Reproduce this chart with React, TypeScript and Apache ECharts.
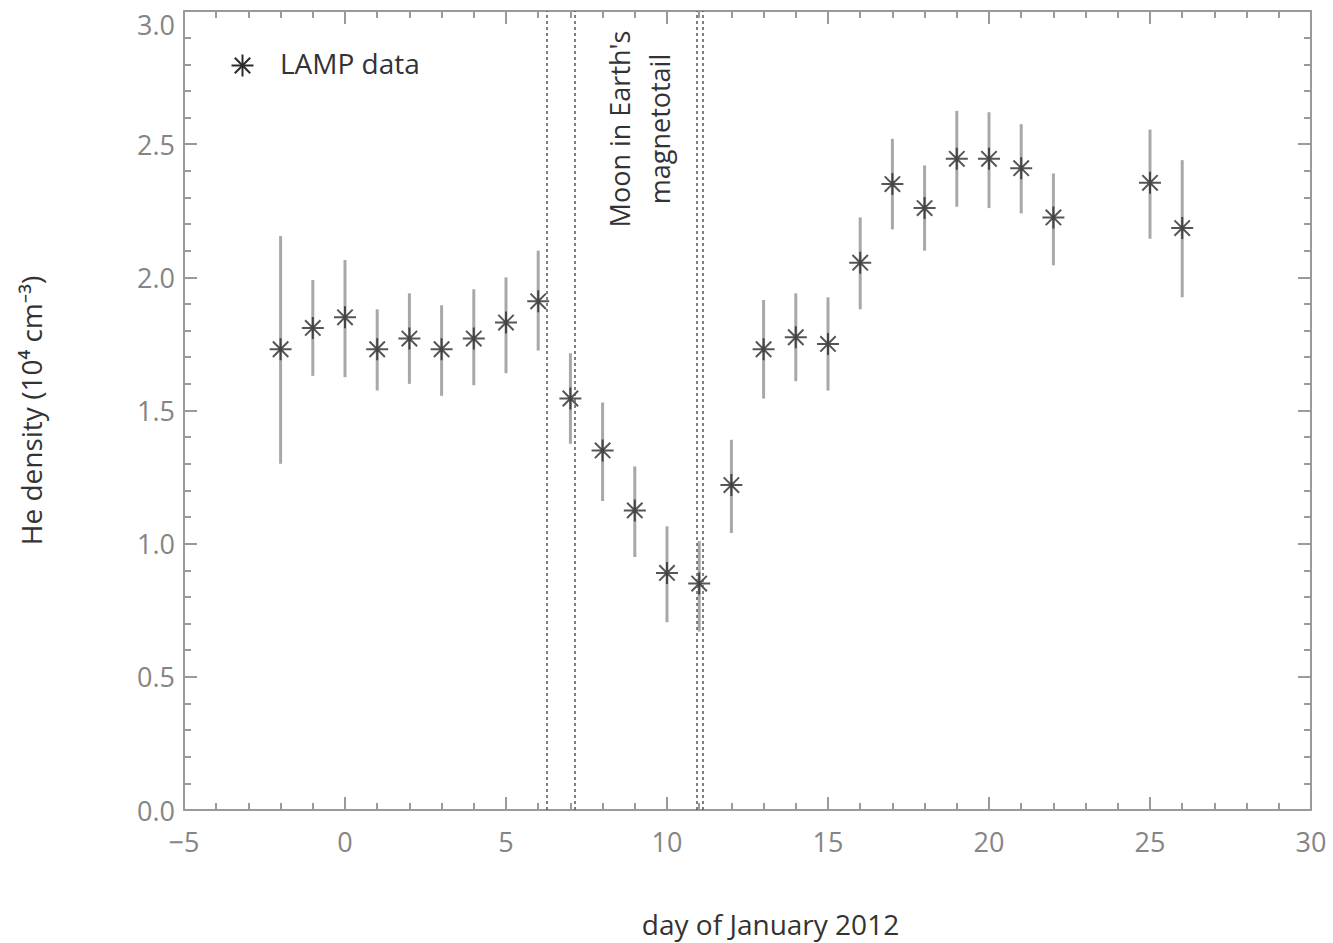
import React, { useEffect, useRef } from "react";
import * as echarts from "echarts";

// Day of January 2012
const days = [-2, -1, 0, 1, 2, 3, 4, 5, 6, 7, 8, 9, 10, 11, 12, 13, 14, 15, 16, 17, 18, 19, 20, 21, 22, 25, 26];
// He density (10^4 cm^-3)
const density = [1.73, 1.81, 1.85, 1.73, 1.77, 1.73, 1.77, 1.83, 1.91, 1.545, 1.35, 1.125, 0.89, 0.85, 1.22, 1.73, 1.775, 1.75, 2.055, 2.35, 2.26, 2.445, 2.445, 2.41, 2.225, 2.355, 2.185];
const errLow = [1.3, 1.63, 1.625, 1.575, 1.6, 1.555, 1.595, 1.64, 1.725, 1.375, 1.16, 0.95, 0.705, 0.67, 1.04, 1.545, 1.61, 1.575, 1.88, 2.18, 2.1, 2.265, 2.26, 2.24, 2.045, 2.145, 1.925];
const errHigh = [2.155, 1.99, 2.065, 1.88, 1.94, 1.895, 1.955, 2.0, 2.1, 1.715, 1.53, 1.29, 1.065, 1.01, 1.39, 1.915, 1.94, 1.925, 2.225, 2.52, 2.42, 2.625, 2.62, 2.575, 2.39, 2.555, 2.44];
// Magnetotail boundaries (days)
const tailLines = [6.25, 7.15, 10.92, 11.1];

const xTicks = { min: -5, max: 30, interval: 5 };
const yTicks = { min: 0, max: 3, interval: 0.5 };

const FONT = "'Open Sans', 'Noto Sans', sans-serif";
const AX = "#9a9a9a";
const STAR = "#2a2a2a";
const ASTERISK = "path://M10 0L10 20M0 10L20 10M3 3L17 17M3 17L17 3";

export default function App() {
  const ref = useRef<HTMLDivElement>(null);
  useEffect(() => {
    if (!ref.current) return;
    const chart = echarts.init(ref.current, null, { renderer: "svg" });
    const lineStyle = { color: AX, width: 2 };
    const fmtX = (v: number) => (v < 0 ? "\u2212" + Math.abs(v) : String(v));
    const baseX = {
      type: "value",
      min: xTicks.min,
      max: xTicks.max,
      interval: xTicks.interval,
      axisLine: { show: true, onZero: false, lineStyle },
      axisTick: { show: true, inside: true, length: 13, lineStyle },
      minorTick: { show: true, splitNumber: 5, length: 7, lineStyle: { color: AX, width: 2 } },
      splitLine: { show: false },
    };
    const baseY = {
      type: "value",
      min: yTicks.min,
      max: yTicks.max,
      interval: yTicks.interval,
      axisLine: { show: true, onZero: false, lineStyle },
      axisTick: { show: true, inside: true, length: 13, lineStyle },
      minorTick: { show: true, splitNumber: 5, length: 7, lineStyle: { color: AX, width: 2 } },
      splitLine: { show: false },
    };
    const errData = days.map((d, i) => [d, density[i], errLow[i], errHigh[i]]);
    const ptData = days.map((d, i) => [d, density[i]]);
    chart.setOption({
      animation: false,
      backgroundColor: "#ffffff",
      grid: { left: 184, right: 22, top: 11, bottom: 133, containLabel: false },
      xAxis: [
        {
          ...baseX,
          position: "bottom",
          axisLabel: { show: true, margin: 18, color: "#858585", fontSize: 27, fontFamily: FONT, formatter: fmtX },
          name: "day of January 2012",
          nameLocation: "middle",
          nameGap: 100,
          nameTextStyle: { color: "#333", fontSize: 28, fontFamily: FONT, padding: [0, 0, 0, 46] },
        },
        { ...baseX, position: "top", axisLabel: { show: false } },
      ],
      yAxis: [
        {
          ...baseY,
          position: "left",
          axisLabel: {
            show: true,
            margin: 9,
            color: "#858585",
            fontSize: 27,
            fontFamily: FONT,
            verticalAlignMaxLabel: "top",
            formatter: (v: number) => v.toFixed(1),
          },
          name: "He density (10\u2074 cm\u207B\u00B3)",
          nameLocation: "middle",
          nameRotate: 90,
          nameGap: 139,
          nameTextStyle: { color: "#333", fontSize: 28, fontFamily: FONT },
        },
        { ...baseY, position: "right", axisLabel: { show: false } },
      ],
      series: [
        {
          type: "custom",
          name: "error",
          xAxisIndex: 0,
          yAxisIndex: 0,
          data: errData,
          encode: { x: 0, y: 1 },
          renderItem: (_p: any, api: any) => {
            const x = api.value(0);
            const p1 = api.coord([x, api.value(3)]);
            const p2 = api.coord([x, api.value(2)]);
            return {
              type: "line",
              shape: { x1: p1[0], y1: p1[1], x2: p2[0], y2: p2[1] },
              style: { stroke: "#a8a8a8", lineWidth: 3 },
            };
          },
          z: 2,
        },
        {
          type: "scatter",
          name: "LAMP data",
          xAxisIndex: 0,
          yAxisIndex: 0,
          data: ptData,
          symbol: ASTERISK,
          symbolSize: 22,
          itemStyle: { color: STAR, borderColor: STAR, borderWidth: 2 },
          z: 4,
          markLine: {
            silent: true,
            symbol: "none",
            label: { show: false },
            lineStyle: { color: "#555", width: 1.5, type: [3, 3] },
            data: tailLines.map((v) => ({ xAxis: v })),
          },
        },
      ],
      graphic: [
        {
          type: "group",
          left: 229,
          top: 52,
          children: [
            { type: "line", shape: { x1: 11, y1: 0, x2: 11, y2: 22 }, style: { stroke: STAR, lineWidth: 2 } },
            { type: "line", shape: { x1: 0, y1: 11, x2: 22, y2: 11 }, style: { stroke: STAR, lineWidth: 2 } },
            { type: "line", shape: { x1: 3.3, y1: 3.3, x2: 18.7, y2: 18.7 }, style: { stroke: STAR, lineWidth: 2 } },
            { type: "line", shape: { x1: 3.3, y1: 18.7, x2: 18.7, y2: 3.3 }, style: { stroke: STAR, lineWidth: 2 } },
          ],
        },
        {
          type: "text",
          x: 280,
          y: 63,
          style: { text: "LAMP data", fill: "#333", font: `28px ${FONT}`, verticalAlign: "middle", align: "left" },
        },
        {
          type: "text",
          x: 639,
          y: 129,
          rotation: Math.PI / 2,
          style: {
            text: "Moon in Earth's\nmagnetotail",
            fill: "#333",
            font: `27px ${FONT}`,
            align: "center",
            verticalAlign: "middle",
            lineHeight: 40,
          },
        },
      ],
    });
    return () => chart.dispose();
  }, []);
  return <div ref={ref} style={{ position: "fixed", left: 0, top: 0, width: 1333, height: 943 }} />;
}
